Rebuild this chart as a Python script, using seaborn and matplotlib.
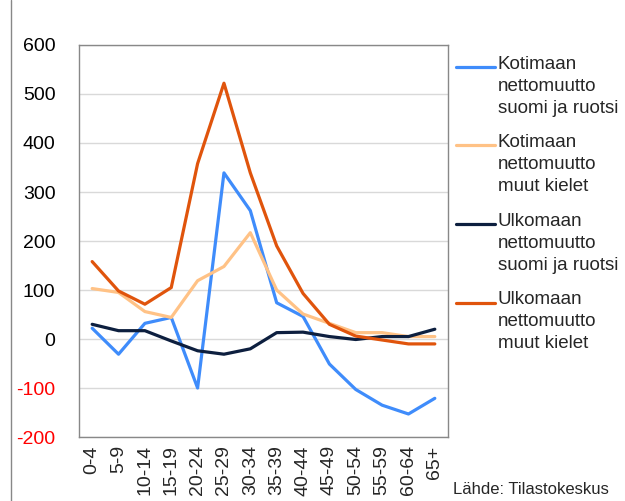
import pandas as pd
import seaborn as sns
import matplotlib.pyplot as plt
from matplotlib.lines import Line2D

# age groups on the x axis
age_groups = ["0-4", "5-9", "10-14", "15-19", "20-24", "25-29", "30-34",
              "35-39", "40-44", "45-49", "50-54", "55-59", "60-64", "65+"]

# net migration per series
kot_suomi_ruotsi = [22, -31, 32, 44, -100, 339, 262, 74, 46, -51, -103, -135, -153, -121]
kot_muut = [103, 95, 56, 44, 119, 148, 217, 100, 51, 32, 13, 13, 5, 5]
ulk_suomi_ruotsi = [30, 17, 17, -4, -24, -31, -20, 13, 14, 5, -1, 5, 5, 20]
ulk_muut = [158, 98, 71, 105, 358, 522, 339, 190, 93, 30, 6, -2, -10, -10]

series_names = [
    "Kotimaan\nnettomuutto\nsuomi ja ruotsi",
    "Kotimaan\nnettomuutto\nmuut kielet",
    "Ulkomaan\nnettomuutto\nsuomi ja ruotsi",
    "Ulkomaan\nnettomuutto\nmuut kielet",
]
colors = ["#3f8cfb", "#ffc286", "#0d1f3f", "#e0540c"]

y_ticks = [-200, -100, 0, 100, 200, 300, 400, 500, 600]

# build long-form table for seaborn
rows = []
for name, vals in zip(series_names, [kot_suomi_ruotsi, kot_muut, ulk_suomi_ruotsi, ulk_muut]):
    for i, v in enumerate(vals):
        rows.append({"pos": i, "value": v, "series": name})
df = pd.DataFrame(rows)

sns.set_style("white")
plt.rcParams["font.family"] = ["Liberation Sans", "DejaVu Sans"]

W, H = 625, 501
fig = plt.figure(figsize=(W / 100, H / 100), dpi=100)
ax = fig.add_axes([0.1264, 0.1277, 0.5904, 0.7825])

sns.lineplot(data=df, x="pos", y="value", hue="series", hue_order=series_names,
             palette=colors, linewidth=2.3, ax=ax, legend=False)

ax.set_xlim(-0.5, len(age_groups) - 0.5)
ax.set_ylim(-200, 600)
ax.set_xticks(range(len(age_groups)))
ax.set_xticklabels(age_groups, rotation=90, fontsize=14)
ax.set_yticks(y_ticks)
ax.set_yticklabels([str(t) for t in y_ticks], fontsize=14)
for lbl, t in zip(ax.get_yticklabels(), y_ticks):
    lbl.set_color("#ff0000" if t < 0 else "black")
ax.tick_params(axis="y", length=0, pad=17)
ax.tick_params(axis="x", length=0, pad=6)
ax.set_xlabel("")
ax.set_ylabel("")

ax.grid(axis="y", color="#d9d9d9", linewidth=1)
ax.set_axisbelow(True)
for sp in ax.spines.values():
    sp.set_color("#888888")
    sp.set_linewidth(1)
    sp.set_visible(True)

# legend drawn by hand so the line sits next to the first text row
for i, (name, col) in enumerate(zip(series_names, colors)):
    y_px = 66.7 + i * 78.6
    y = 1 - y_px / H
    fig.add_artist(Line2D([456 / W, 495 / W], [y, y], color=col, linewidth=2.3))
    fig.text(498 / W, 1 - (y_px - 11) / H, name, fontsize=13.5, va="top", ha="left",
             linespacing=1.38)

fig.text(0.725, 0.014, "Lähde: Tilastokeskus", fontsize=12)

# thin vertical line on the far left
fig.add_artist(Line2D([0.0176, 0.0176], [0, 1], color="#888888", linewidth=1))

fig.savefig("out.png", dpi=100)
